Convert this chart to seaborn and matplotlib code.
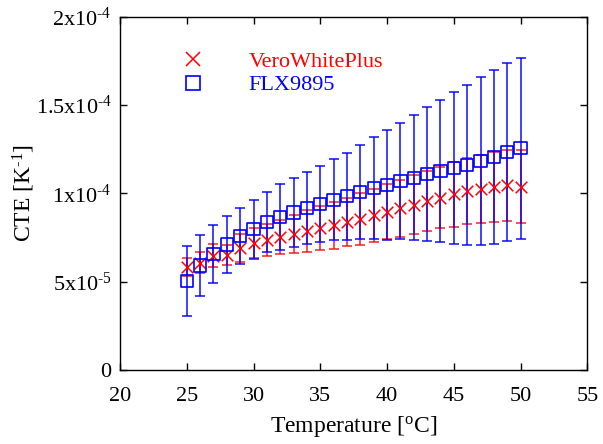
import numpy as np
import pandas as pd
import matplotlib
matplotlib.use("Agg")
import matplotlib.pyplot as plt
from matplotlib.lines import Line2D
import seaborn as sns

# temperatures (deg C)
temp = list(range(25, 51))

# VeroWhitePlus CTE (x1e-4 1/K) and error
vero = [0.580, 0.608, 0.646, 0.651, 0.689, 0.716, 0.735, 0.754, 0.769, 0.786,
        0.805, 0.820, 0.837, 0.856, 0.875, 0.896, 0.915, 0.936, 0.958, 0.975,
        0.994, 1.013, 1.026, 1.038, 1.045, 1.038]
vero_err = [0.051, 0.062, 0.066, 0.056, 0.080, 0.085, 0.089, 0.097, 0.109, 0.117,
            0.126, 0.133, 0.138, 0.147, 0.150, 0.155, 0.160, 0.166, 0.170, 0.173,
            0.183, 0.187, 0.192, 0.199, 0.203, 0.205]

# FLX9895 CTE (x1e-4 1/K) and error
flx = [0.502, 0.591, 0.656, 0.710, 0.758, 0.797, 0.839, 0.864, 0.892, 0.918,
       0.940, 0.963, 0.984, 1.008, 1.029, 1.049, 1.070, 1.089, 1.109, 1.126,
       1.143, 1.161, 1.184, 1.206, 1.233, 1.255]
flx_err = [0.197, 0.172, 0.164, 0.159, 0.159, 0.167, 0.170, 0.187, 0.195, 0.204,
           0.217, 0.230, 0.247, 0.265, 0.289, 0.311, 0.331, 0.354, 0.380, 0.404,
           0.429, 0.451, 0.474, 0.494, 0.504, 0.511]

labels = ["VeroWhitePlus", "FLX9895"]
colors = {"VeroWhitePlus": "#ff0000", "FLX9895": "#0000ff"}

yticks = [0, 5e-5, 1e-4, 1.5e-4, 2e-4]
ytick_labels = ["0", r"$\mathrm{5x10^{\text{-}5}}$", r"$\mathrm{1x10^{\text{-}4}}$",
                r"$\mathrm{1.5x10^{\text{-}4}}$", r"$\mathrm{2x10^{\text{-}4}}$"]

df = pd.concat([
    pd.DataFrame({"T": temp, "CTE": np.array(vero) * 1e-4,
                  "err": np.array(vero_err) * 1e-4, "Material": labels[0]}),
    pd.DataFrame({"T": temp, "CTE": np.array(flx) * 1e-4,
                  "err": np.array(flx_err) * 1e-4, "Material": labels[1]}),
], ignore_index=True)

sns.set_theme(style="ticks")
plt.rcParams["font.family"] = ["Liberation Serif", "DejaVu Serif"]
plt.rcParams["mathtext.fontset"] = "custom"
plt.rcParams["mathtext.rm"] = "Liberation Serif"
plt.rcParams["mathtext.it"] = "Liberation Serif:italic"
plt.rcParams["mathtext.bf"] = "Liberation Serif:bold"
plt.rcParams["text.color"] = "black"
plt.rcParams["axes.labelcolor"] = "black"

fig = plt.figure(figsize=(6.03, 4.44), dpi=100)
ax = fig.add_axes([0.199, 0.167, 0.775, 0.795])

# error bars: red first, blue on top (semi-transparent)
for mat, alpha, z in [("VeroWhitePlus", 0.75, 2), ("FLX9895", 0.8, 3)]:
    sub = df[df["Material"] == mat]
    ax.errorbar(sub["T"], sub["CTE"], yerr=sub["err"], fmt="none",
                ecolor=colors[mat], elinewidth=1.3, capsize=3.8,
                capthick=1.3, alpha=alpha, zorder=z)

sub = df[df["Material"] == "VeroWhitePlus"]
sns.scatterplot(data=sub, x="T", y="CTE", marker="x", color=colors["VeroWhitePlus"],
                s=70, linewidth=1.1, ax=ax, zorder=4, legend=False)
sub = df[df["Material"] == "FLX9895"]
sns.scatterplot(data=sub, x="T", y="CTE", marker="s", s=78, ax=ax, zorder=5,
                legend=False)
sq = ax.collections[-1]
sq.set_facecolor("none")
sq.set_edgecolor(colors["FLX9895"])
sq.set_linewidth(1.2)

ax.set_xlim(20, 55)
ax.set_ylim(0, 2e-4)
ax.set_xticks(range(20, 56, 5))
ax.set_yticks(yticks)
ax.set_yticklabels(ytick_labels)
ax.tick_params(direction="in", top=True, right=True, length=5, width=1,
               labelsize=16, colors="black")
ax.tick_params(axis="x", pad=12)
ax.tick_params(axis="y", pad=6)
for s in ax.spines.values():
    s.set_linewidth(1)
    s.set_color("black")

ax.set_xlabel(r"Temperature [$\mathrm{^{o}}$C]", fontsize=17, labelpad=6,
              color="black")
ax.set_ylabel(r"CTE [K$\mathrm{^{\text{-}1}}$]", fontsize=17, color="black")
ax.yaxis.set_label_coords(-0.178, 0.5)

handles = [Line2D([], [], ls="none", marker="x", color=colors["VeroWhitePlus"],
                  markersize=10, mew=1.1),
           Line2D([], [], ls="none", marker="s", mfc="none",
                  mec=colors["FLX9895"], markersize=10, mew=1.2)]
ax.legend(handles, labels, loc="upper left", bbox_to_anchor=(0.09, 0.96),
          frameon=False, fontsize=16, handlelength=1, handletextpad=2.0,
          labelspacing=0.15, labelcolor=[colors[l] for l in labels])

fig.savefig("out.png", dpi=100)
